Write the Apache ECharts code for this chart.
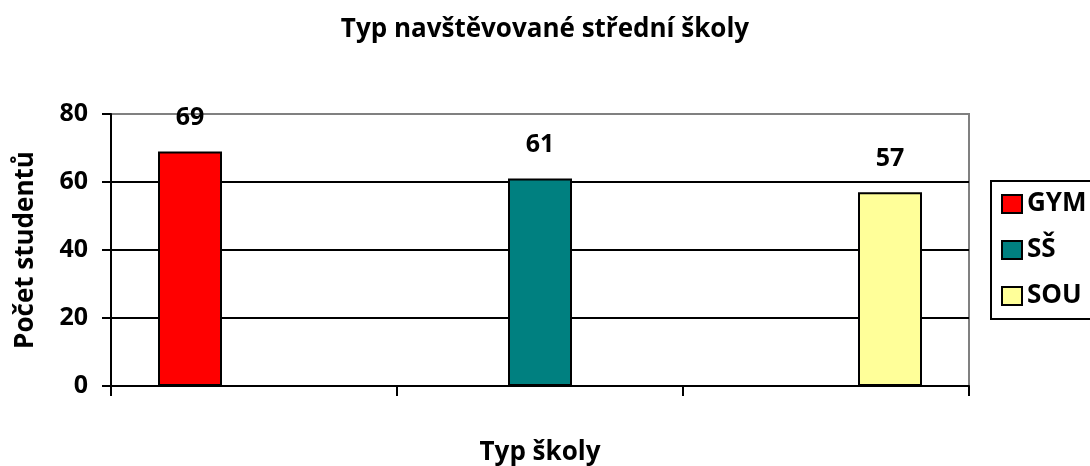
<!DOCTYPE html>
<html>
<head>
<meta charset="utf-8">
<script src="https://cdn.jsdelivr.net/npm/echarts@6/dist/echarts.min.js"></script>
<style>
  html, body { margin: 0; padding: 0; background: #fff; }
  #chart { width: 1090px; height: 466px; }
</style>
</head>
<body>
<div id="chart"></div>
<script>
// school types (one per category slot) and student counts
var categories = ['1', '2', '3']
var seriesNames = ['GYM', 'SŠ', 'SOU']
var seriesValues = [69, 61, 57]
var seriesColors = ['#ff0000', '#008080', '#ffff99']

var font = 'Open Sans'

// Excel style: each series only has a value in its own category
var series = seriesNames.map(function(name, i) {
  return {
    name: name,
    type: 'bar',
    barWidth: 64,
    barGap: '0%',
    data: categories.map(function(c, j) { return j === i ? seriesValues[i] : '-' }),
    itemStyle: {
      color: seriesColors[i],
      borderColor: '#000',
      borderWidth: 2
    },
    label: {
      show: true,
      position: 'top',
      distance: 21,
      color: '#000',
      fontFamily: font,
      fontWeight: 'bold',
      fontSize: 25
    },
    animation: false
  }
})

var chart = echarts.init(document.getElementById('chart'))
chart.setOption({
  animation: false,
  title: {
    text: 'Typ navštěvované střední školy',
    left: 'center',
    top: 12,
    textStyle: {
      color: '#000',
      fontFamily: font,
      fontWeight: 'bold',
      fontSize: 26
    }
  },
  grid: {
    left: 111,
    right: 121,
    top: 114,
    bottom: 80,
    outerBoundsMode: 'none',
    containLabel: false,
    show: true,
    borderColor: '#808080',
    borderWidth: 2
  },
  legend: {
    orient: 'vertical',
    left: 991,
    top: 181,
    padding: [10, 20, 10, 10],
    itemWidth: 20,
    itemHeight: 18,
    itemGap: 20,
    borderColor: '#000',
    borderWidth: 2,
    borderRadius: 0,
    icon: 'rect',
    itemStyle: { borderColor: '#000', borderWidth: 2 },
    textStyle: {
      color: '#000',
      fontFamily: font,
      fontWeight: 'bold',
      fontSize: 26,
      lineHeight: 26
    },
    data: seriesNames
  },
  xAxis: {
    type: 'category',
    data: categories,
    name: 'Typ školy',
    nameLocation: 'middle',
    nameGap: 54,
    nameTextStyle: {
      color: '#000',
      fontFamily: font,
      fontWeight: 'bold',
      fontSize: 26
    },
    axisLine: { lineStyle: { color: '#000', width: 2 } },
    axisTick: { show: true, length: 10, lineStyle: { color: '#000', width: 2 } },
    axisLabel: { show: false }
  },
  yAxis: {
    type: 'value',
    min: 0,
    max: 80,
    interval: 20,
    name: 'Počet studentů',
    nameLocation: 'middle',
    nameGap: 72,
    nameTextStyle: {
      color: '#000',
      fontFamily: font,
      fontWeight: 'bold',
      fontSize: 26
    },
    axisLine: { show: true, lineStyle: { color: '#000', width: 2 } },
    axisTick: { show: true, length: 9, lineStyle: { color: '#000', width: 2 } },
    axisLabel: {
      margin: 23,
      color: '#000',
      fontFamily: font,
      fontWeight: 'bold',
      fontSize: 25
    },
    splitLine: {
      show: true,
      showMinLine: false,
      showMaxLine: false,
      lineStyle: { color: '#000', width: 2 }
    }
  },
  series: series
})
</script>
</body>
</html>
